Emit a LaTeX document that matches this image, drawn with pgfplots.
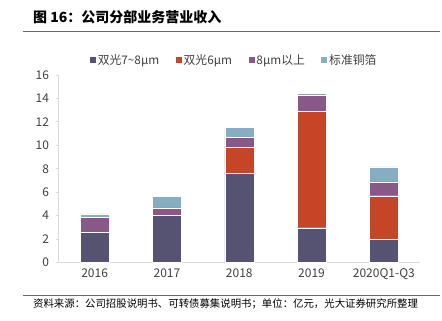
\documentclass[border=0pt]{standalone}
\usepackage{fontspec}
\setmainfont{Noto Sans CJK SC}
\usepackage{pgfplots}
\pgfplotsset{compat=1.18}
\definecolor{cDark}{RGB}{86,82,113}
\definecolor{cRed}{RGB}{197,70,38}
\definecolor{cPur}{RGB}{138,88,136}
\definecolor{cBlue}{RGB}{134,174,195}
\definecolor{cAxis}{RGB}{217,217,217}
\definecolor{cText}{RGB}{64,64,64}
\begin{document}
\begin{tikzpicture}[x=1pt,y=1pt]
\path[use as bounding box] (0,0) rectangle (442,321);
\node[anchor=west,font=\fontsize{14}{15}\selectfont\bfseries,text=black,inner sep=0pt] at (33,304) {图 16：公司分部业务营业收入};
\draw[line width=1pt,color=gray!80!black] (23,289) -- (440,289);
\draw[line width=0.8pt,color=gray!80!black] (23,26) -- (440,26);
\node[anchor=west,font=\fontsize{10.4}{11}\selectfont,text=black,inner sep=0pt] at (33,17.5) {资料来源：公司招股说明书、可转债募集说明书；单位：亿元，光大证券研究所整理};
\begin{axis}[
  at={(58.5pt,58.5pt)}, anchor=south west,
  width=361.5pt, height=187.5pt, scale only axis,
  ybar stacked, bar width=29pt,
  xmin=-0.5, xmax=4.5, ymin=0, ymax=16,
  ytick={0,2,...,16},
  xtick={0,1,2,3,4},
  xticklabels={2016,2017,2018,2019,2020Q1-Q3},
  extra x ticks={0.5,1.5,2.5,3.5,4.5},
  extra x tick labels={},
  extra x tick style={major tick length=4pt, tick align=inside, tick style={color=cAxis, line width=0.8pt}},
  axis x line*=bottom, axis y line*=left,
  axis line style={color=cAxis, line width=0.8pt, -},
  x axis line style={line width=1.2pt},
  x tick style={draw=none},
  y tick style={color=cAxis, line width=0.8pt},
  ytick align=outside, major tick length=3pt,
  tick label style={font=\fontsize{12}{13}\selectfont, text=cText},
  /pgf/number format/assume math mode=true,
  xticklabel style={yshift=-3pt},
  yticklabel style={xshift=-3pt},
  legend columns=4,
  legend style={at={(0.484,1.08)}, anchor=center, draw=none, fill=none,
    font=\fontsize{11.8}{12}\selectfont, text=cText,
    /tikz/every even column/.append style={column sep=14pt},
    nodes={inner xsep=1.5pt, inner ysep=0pt}},
  legend image code/.code={\fill[#1] (0pt,-3.5pt) rectangle (7pt,3.5pt);},
  legend cell align=left,
]
\addplot[fill=cDark, draw=white, line width=0.3pt] coordinates {(0,2.6) (1,4.0) (2,7.6) (3,2.97) (4,1.95)};
\addplot[fill=cRed, draw=white, line width=0.3pt] coordinates {(0,0) (1,0) (2,2.27) (3,9.93) (4,3.75)};
\addplot[fill=cPur, draw=white, line width=0.3pt] coordinates {(0,1.23) (1,0.66) (2,0.83) (3,1.4) (4,1.18)};
\addplot[fill=cBlue, draw=white, line width=0.3pt] coordinates {(0,0.32) (1,1.0) (2,0.82) (3,0.16) (4,1.28)};
\legend{双光7\textasciitilde 8μm, 双光6μm, 8μm以上, 标准铜箔}
\end{axis}
\end{tikzpicture}
\end{document}
